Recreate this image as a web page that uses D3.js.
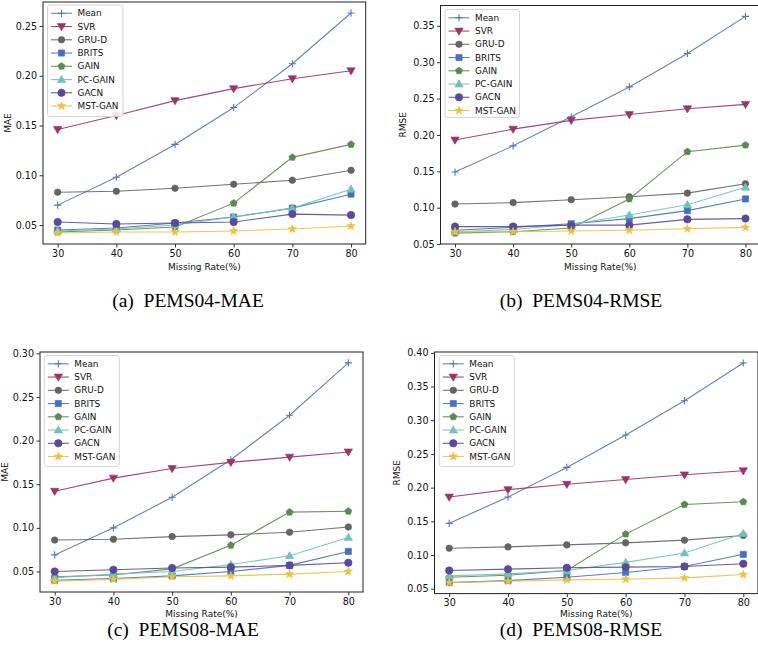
<!DOCTYPE html>
<html>
<head>
<meta charset="utf-8">
<script src="https://cdn.jsdelivr.net/npm/d3@7"></script>
<style>
  html, body { margin: 0; padding: 0; background: #fff; }
  svg { display: block; }
  .tick text { font-family: "DejaVu Sans", sans-serif; }
</style>
</head>
<body>
<svg id="chart" width="758" height="669"></svg>
<script>
// Missing rates on the x axis
const missingRates = [30, 40, 50, 60, 70, 80];

// Imputation methods, in legend order
const methods = ["Mean", "SVR", "GRU-D", "BRITS", "GAIN", "PC-GAIN", "GACN", "MST-GAN"];

// One row per method (same order as `methods`), one value per missing rate
const pems04Mae = [
  [0.070, 0.098, 0.131, 0.168, 0.212, 0.263],
  [0.146, 0.160, 0.175, 0.187, 0.197, 0.205],
  [0.083, 0.084, 0.087, 0.091, 0.095, 0.105],
  [0.045, 0.047, 0.052, 0.058, 0.067, 0.081],
  [0.043, 0.045, 0.048, 0.072, 0.118, 0.131],
  [0.044, 0.046, 0.050, 0.058, 0.067, 0.086],
  [0.053, 0.051, 0.052, 0.053, 0.061, 0.060],
  [0.042, 0.043, 0.043, 0.044, 0.046, 0.049]
];

const pems04Rmse = [
  [0.149, 0.185, 0.225, 0.266, 0.312, 0.363],
  [0.193, 0.208, 0.220, 0.228, 0.236, 0.242],
  [0.105, 0.107, 0.111, 0.115, 0.120, 0.133],
  [0.069, 0.073, 0.078, 0.085, 0.096, 0.112],
  [0.065, 0.067, 0.072, 0.112, 0.177, 0.186],
  [0.067, 0.070, 0.077, 0.090, 0.104, 0.128],
  [0.074, 0.074, 0.076, 0.076, 0.084, 0.085],
  [0.067, 0.067, 0.068, 0.069, 0.071, 0.073]
];

const pems08Mae = [
  [0.069, 0.100, 0.135, 0.178, 0.229, 0.289],
  [0.142, 0.157, 0.168, 0.175, 0.181, 0.187],
  [0.086, 0.087, 0.090, 0.092, 0.095, 0.101],
  [0.040, 0.042, 0.045, 0.050, 0.057, 0.073],
  [0.044, 0.046, 0.053, 0.080, 0.118, 0.119],
  [0.043, 0.047, 0.050, 0.058, 0.068, 0.089],
  [0.050, 0.052, 0.054, 0.055, 0.057, 0.060],
  [0.039, 0.041, 0.044, 0.045, 0.047, 0.050]
];

const pems08Rmse = [
  [0.147, 0.186, 0.230, 0.278, 0.329, 0.385],
  [0.186, 0.197, 0.205, 0.212, 0.219, 0.225],
  [0.110, 0.112, 0.115, 0.118, 0.122, 0.129],
  [0.059, 0.062, 0.067, 0.074, 0.083, 0.101],
  [0.067, 0.070, 0.077, 0.131, 0.175, 0.179],
  [0.069, 0.072, 0.077, 0.089, 0.103, 0.132],
  [0.077, 0.079, 0.081, 0.082, 0.083, 0.087],
  [0.059, 0.061, 0.063, 0.064, 0.066, 0.071]
];

// Y tick values for each panel
const maeTicks04 = [0.05, 0.10, 0.15, 0.20, 0.25];
const rmseTicks04 = [0.05, 0.10, 0.15, 0.20, 0.25, 0.30, 0.35];
const maeTicks08 = [0.05, 0.10, 0.15, 0.20, 0.25, 0.30];
const rmseTicks08 = [0.05, 0.10, 0.15, 0.20, 0.25, 0.30, 0.35, 0.40];

// Style per method: colour and marker
const colors = ["#5473c3", "#9b3467", "#646464", "#4670bd", "#5a8a51", "#6fc3bb", "#5a4a9d", "#ecc13f"];
const markers = ["plus", "triDown", "circle", "square", "pentagon", "triUp", "bigCircle", "star"];

const svg = d3.select("#chart");

function markerPath(kind) {
  const p = d3.path();
  if (kind === "plus") {
    const r = 3.6;
    p.moveTo(-r, 0); p.lineTo(r, 0); p.moveTo(0, -r); p.lineTo(0, r);
    return p.toString();
  }
  if (kind === "circle") return d3.symbol(d3.symbolCircle, 34)();
  if (kind === "bigCircle") return d3.symbol(d3.symbolCircle, 44)();
  if (kind === "square") { const s = 3.1; return `M${-s},${-s}H${s}V${s}H${-s}Z`; }
  if (kind === "triDown") { const r = 4.2; return `M${-r},${-r*0.7}L${r},${-r*0.7}L0,${r}Z`; }
  if (kind === "triUp") { const r = 4.2; return `M${-r},${r*0.7}L${r},${r*0.7}L0,${-r}Z`; }
  if (kind === "pentagon") {
    const r = 3.7, pts = [];
    for (let i = 0; i < 5; i++) {
      const a = -Math.PI / 2 + i * 2 * Math.PI / 5;
      pts.push([r * Math.cos(a), r * Math.sin(a)]);
    }
    return "M" + pts.map(d => d.join(",")).join("L") + "Z";
  }
  if (kind === "star") {
    const R = 4.4, r = 1.8, pts = [];
    for (let i = 0; i < 10; i++) {
      const a = -Math.PI / 2 + i * Math.PI / 5;
      const rr = i % 2 ? r : R;
      pts.push([rr * Math.cos(a), rr * Math.sin(a)]);
    }
    return "M" + pts.map(d => d.join(",")).join("L") + "Z";
  }
}

function drawMarker(g, kind, color) {
  const path = g.append("path").attr("d", markerPath(kind));
  if (kind === "plus") {
    path.attr("fill", "none").attr("stroke", color).attr("stroke-width", 1.1);
  } else {
    path.attr("fill", color).attr("stroke", color).attr("stroke-width", 0.6);
  }
}

function drawPanel(cfg) {
  const { data, left, right, top, bottom, yTicks, yLabel, yLabelX, xLabelGap, legend, caption } = cfg;
  const all = data.flat();
  const lo = d3.min(all), hi = d3.max(all), pad = (hi - lo) * 0.05;

  const x = d3.scaleLinear().domain([27.5, 82.5]).range([left, right]);
  const y = d3.scaleLinear().domain([lo - pad, hi + pad]).range([bottom, top]);

  const g = svg.append("g");

  // Clip for the plotting area
  const clipId = "clip" + Math.round(left) + Math.round(top);
  svg.append("clipPath").attr("id", clipId)
    .append("rect").attr("x", left).attr("y", top).attr("width", right - left).attr("height", bottom - top);

  // Axes
  const xAxis = d3.axisBottom(x).tickValues(missingRates).tickSize(3.5).tickPadding(2.5).tickFormat(d3.format("d"));
  const yAxis = d3.axisLeft(y).tickValues(yTicks).tickSize(3.5).tickPadding(2.5).tickFormat(d3.format(".2f"));

  const gx = g.append("g").attr("transform", `translate(0,${bottom})`).call(xAxis);
  const gy = g.append("g").attr("transform", `translate(${left},0)`).call(yAxis);
  [gx, gy].forEach(a => {
    a.select(".domain").remove();
    a.selectAll(".tick line").attr("stroke", "#000").attr("stroke-width", 0.8);
    a.selectAll(".tick text").attr("font-size", 9.6).attr("fill", "#111");
  });

  // Axis labels
  g.append("text")
    .attr("x", (left + right) / 2).attr("y", bottom + xLabelGap)
    .attr("text-anchor", "middle")
    .attr("font-family", "DejaVu Sans, sans-serif").attr("font-size", 9)
    .attr("fill", "#111")
    .text("Missing Rate(%)");
  g.append("text")
    .attr("transform", `translate(${yLabelX},${(top + bottom) / 2}) rotate(-90)`)
    .attr("text-anchor", "middle")
    .attr("font-family", "DejaVu Sans, sans-serif").attr("font-size", 9)
    .attr("fill", "#111")
    .text(yLabel);

  // Series
  const plot = g.append("g").attr("clip-path", `url(#${clipId})`);
  const line = d3.line().x((d, i) => x(missingRates[i])).y(d => y(d));
  data.forEach((vals, k) => {
    plot.append("path")
      .datum(vals)
      .attr("d", line)
      .attr("fill", "none")
      .attr("stroke", colors[k])
      .attr("stroke-width", 1.1)
      .attr("stroke-opacity", 0.9);
  });
  data.forEach((vals, k) => {
    vals.forEach((v, i) => {
      const m = plot.append("g").attr("transform", `translate(${x(missingRates[i])},${y(v)})`);
      drawMarker(m, markers[k], colors[k]);
    });
  });

  // Frame
  g.append("rect")
    .attr("x", left).attr("y", top)
    .attr("width", right - left).attr("height", bottom - top)
    .attr("fill", "none").attr("stroke", "#222").attr("stroke-width", 1);

  // Legend
  const lg = g.append("g");
  lg.append("rect")
    .attr("x", legend.x).attr("y", legend.y)
    .attr("width", legend.w).attr("height", legend.h)
    .attr("rx", 2.5)
    .attr("fill", "#fff").attr("fill-opacity", 0.85)
    .attr("stroke", "#d0d0d0").attr("stroke-width", 0.9);
  methods.forEach((name, k) => {
    const cy = legend.y + 8.3 + k * 13.25;
    const hx0 = legend.x + 3.5, hx1 = hx0 + 21;
    lg.append("line")
      .attr("x1", hx0).attr("x2", hx1).attr("y1", cy).attr("y2", cy)
      .attr("stroke", colors[k]).attr("stroke-width", 1.1).attr("stroke-opacity", 0.9);
    const m = lg.append("g").attr("transform", `translate(${(hx0 + hx1) / 2},${cy})`);
    drawMarker(m, markers[k], colors[k]);
    lg.append("text")
      .attr("x", hx1 + 5.5).attr("y", cy)
      .attr("dy", "0.35em")
      .attr("font-family", "DejaVu Sans, sans-serif").attr("font-size", 8.9)
      .attr("fill", "#111")
      .text(name);
  });

  // Sub-figure caption
  svg.append("text")
    .attr("x", caption.x).attr("y", caption.y)
    .attr("text-anchor", "middle")
    .attr("font-family", "Liberation Serif, Times New Roman, serif")
    .attr("font-size", 19.5)
    .attr("fill", "#000")
    .attr("xml:space", "preserve")
    .text(caption.text);
}

drawPanel({
  data: pems04Mae, left: 43, right: 365.7, top: 2, bottom: 244,
  yTicks: maeTicks04, yLabel: "MAE", yLabelX: 11, xLabelGap: 25.5,
  legend: { x: 47.5, y: 5, w: 75.5, h: 111.5 },
  caption: { x: 188, y: 306.5, text: "(a)  PEMS04-MAE" }
});

drawPanel({
  data: pems04Rmse, left: 440.5, right: 760, top: 5.5, bottom: 244,
  yTicks: rmseTicks04, yLabel: "RMSE", yLabelX: 406, xLabelGap: 25.5,
  legend: { x: 445, y: 9.5, w: 74.5, h: 108 },
  caption: { x: 581, y: 306.5, text: "(b)  PEMS04-RMSE" }
});

drawPanel({
  data: pems08Mae, left: 40, right: 363, top: 352, bottom: 592,
  yTicks: maeTicks08, yLabel: "MAE", yLabelX: 8, xLabelGap: 24.5,
  legend: { x: 44.3, y: 355.5, w: 75, h: 111 },
  caption: { x: 183, y: 636, text: "(c)  PEMS08-MAE" }
});

drawPanel({
  data: pems08Rmse, left: 434.5, right: 758, top: 352, bottom: 593.6,
  yTicks: rmseTicks08, yLabel: "RMSE", yLabelX: 400, xLabelGap: 23,
  legend: { x: 439.3, y: 355.5, w: 75, h: 111 },
  caption: { x: 581, y: 636, text: "(d)  PEMS08-RMSE" }
});
</script>
</body>
</html>
